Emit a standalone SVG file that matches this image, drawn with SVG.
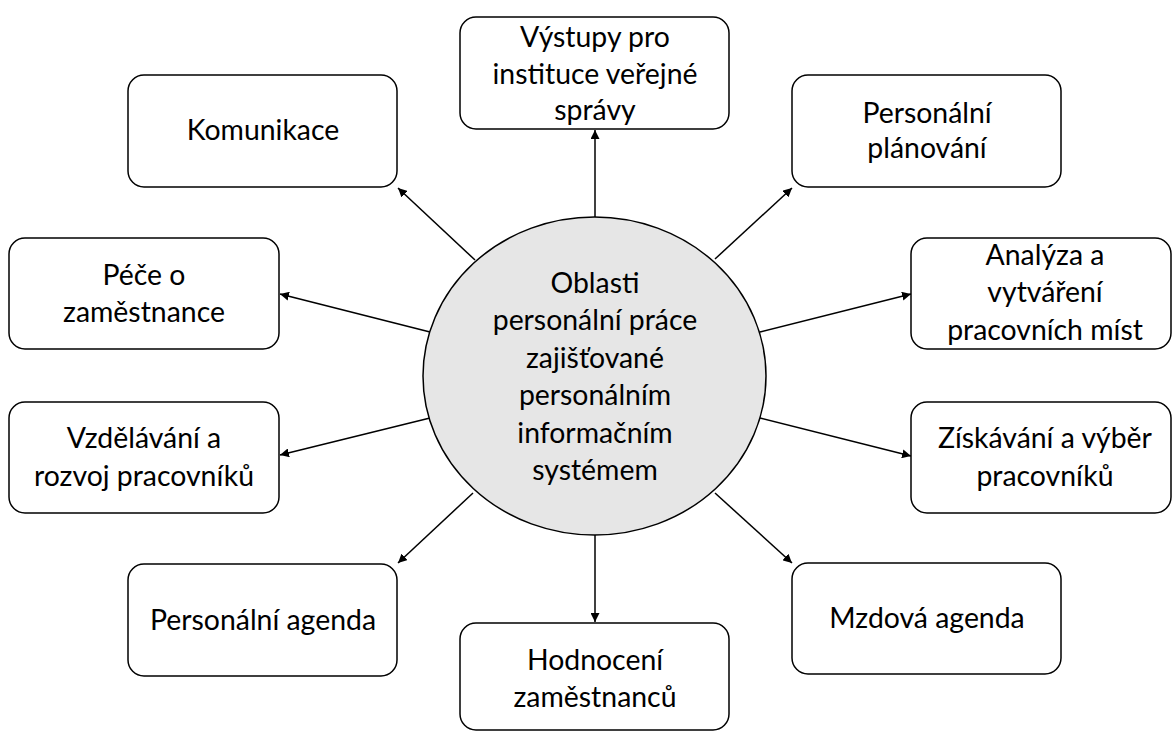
<svg xmlns="http://www.w3.org/2000/svg" width="1172" height="731" viewBox="0 0 1172 731">
<defs>
<style>
.box{fill:#fff;stroke:#000;stroke-width:1.5}
.hub{fill:#e6e6e6;stroke:#000;stroke-width:1.5}
.lbl{font-family:Lato,"Open Sans","Liberation Sans",sans-serif;font-size:28.4px;fill:#000;text-anchor:middle}
.con{stroke:#000;stroke-width:1.5;fill:none;marker-end:url(#ah)}
</style>
<marker id="ah" viewBox="0 0 10 10" refX="10" refY="5" markerWidth="9" markerHeight="9" markerUnits="userSpaceOnUse" orient="auto">
<path d="M0,0 L10,5 L0,10 z" fill="#000"/>
</marker>
</defs>
<rect width="1172" height="731" fill="#fff"/>
<g id="connectors">
<line class="con" x1="595" y1="217" x2="595" y2="130"/>
<line class="con" x1="475" y1="260" x2="398" y2="188"/>
<line class="con" x1="430" y1="332" x2="280" y2="294"/>
<line class="con" x1="430" y1="418" x2="280" y2="455"/>
<line class="con" x1="473" y1="493" x2="398" y2="563"/>
<line class="con" x1="595" y1="535" x2="595" y2="622"/>
<line class="con" x1="715" y1="493" x2="792" y2="563"/>
<line class="con" x1="760" y1="418" x2="911" y2="456"/>
<line class="con" x1="760" y1="332" x2="911" y2="294"/>
<line class="con" x1="715" y1="259" x2="792" y2="188"/>
</g>
<g id="hub">
<ellipse class="hub" cx="594.5" cy="376" rx="171.5" ry="159"/>
<text class="lbl"><tspan x="595" y="293">Oblasti</tspan><tspan x="595" y="330">personální práce</tspan><tspan x="595" y="368">zajišťované</tspan><tspan x="595" y="405">personálním</tspan><tspan x="595" y="443">informačním</tspan><tspan x="595" y="480">systémem</tspan></text>
</g>
<g id="vystupy">
<rect class="box" x="460" y="17" width="269" height="112" rx="16"/>
<text class="lbl"><tspan x="595" y="47">Výstupy pro</tspan><tspan x="595" y="84">instituce veřejné</tspan><tspan x="595" y="120">správy</tspan></text>
</g>
<g id="komunikace">
<rect class="box" x="128" y="75" width="269" height="112" rx="16"/>
<text class="lbl" x="263" y="140">Komunikace</text>
</g>
<g id="pece">
<rect class="box" x="9" y="238" width="270" height="111" rx="16"/>
<text class="lbl"><tspan x="144" y="285">Péče o</tspan><tspan x="144" y="322">zaměstnance</tspan></text>
</g>
<g id="vzdelavani">
<rect class="box" x="9" y="402" width="270" height="111" rx="16"/>
<text class="lbl"><tspan x="144" y="448">Vzdělávání a</tspan><tspan x="144" y="486">rozvoj pracovníků</tspan></text>
</g>
<g id="agenda">
<rect class="box" x="128" y="564" width="269" height="112" rx="16"/>
<text class="lbl" x="263" y="630">Personální agenda</text>
</g>
<g id="hodnoceni">
<rect class="box" x="460" y="623" width="269" height="107" rx="16"/>
<text class="lbl"><tspan x="595" y="670">Hodnocení</tspan><tspan x="595" y="707">zaměstnanců</tspan></text>
</g>
<g id="mzdova">
<rect class="box" x="792" y="563" width="269" height="111" rx="16"/>
<text class="lbl" x="927" y="628">Mzdová agenda</text>
</g>
<g id="ziskavani">
<rect class="box" x="911" y="402" width="260" height="111" rx="16"/>
<text class="lbl"><tspan x="1045" y="448">Získávání a výběr</tspan><tspan x="1045" y="486">pracovníků</tspan></text>
</g>
<g id="analyza">
<rect class="box" x="911" y="238" width="260" height="111" rx="16"/>
<text class="lbl"><tspan x="1045" y="265">Analýza a</tspan><tspan x="1045" y="302">vytváření</tspan><tspan x="1045" y="340">pracovních míst</tspan></text>
</g>
<g id="planovani">
<rect class="box" x="792" y="75" width="269" height="112" rx="16"/>
<text class="lbl"><tspan x="927" y="123">Personální</tspan><tspan x="927" y="158">plánování</tspan></text>
</g>
</svg>
